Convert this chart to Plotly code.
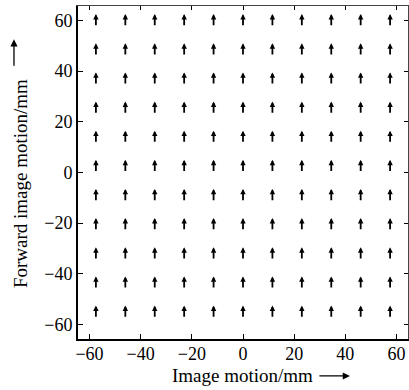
import plotly.graph_objects as go

# Grid of sample points (mm)
x_positions = [-57.5, -46.0, -34.5, -23.0, -11.5, 0.0, 11.5, 23.0, 34.5, 46.0, 57.5]
y_positions = [-57.5, -46.0, -34.5, -23.0, -11.5, 0.0, 11.5, 23.0, 34.5, 46.0, 57.5]
# Image motion components at each row (lateral u, forward v), uniform field
u_rows = [0.0, 0.0, 0.0, 0.0, 0.0, 0.0, 0.0, 0.0, 0.0, 0.0, 0.0]
v_rows = [5.0, 5.0, 5.0, 5.0, 5.0, 5.0, 5.0, 5.0, 5.0, 5.0, 5.0]

tick_vals = [-60, -40, -20, 0, 20, 40, 60]
tick_text = ["\u221260", "\u221240", "\u221220", "0", "20", "40", "60"]

x_title = "Image motion/mm"
y_title = "Forward image motion/mm"

FONT = "Liberation Serif"

fig = go.Figure()
fig.add_trace(go.Scatter(x=[0], y=[0], mode="markers", marker=dict(opacity=0),
                         hoverinfo="skip", showlegend=False))
fig.add_trace(go.Scatter(x=[0], y=[0], mode="markers", marker=dict(opacity=0),
                         xaxis="x2", yaxis="y2", hoverinfo="skip", showlegend=False))

annotations = []
for j, yv in enumerate(y_positions):
    for xv in x_positions:
        annotations.append(dict(
            x=xv + u_rows[j], y=yv + v_rows[j], ax=xv, ay=yv,
            xref="x", yref="y", axref="x", ayref="y",
            text="", showarrow=True, arrowhead=2, arrowsize=0.6,
            arrowwidth=1.8, arrowcolor="black", standoff=0, startstandoff=0,
        ))

annotations.append(dict(text=x_title, xref="paper", yref="paper",
                        x=0.497, y=-0.11, xanchor="center", yanchor="middle",
                        showarrow=False, font=dict(family=FONT, size=19, color="black")))
annotations.append(dict(text=y_title, xref="paper", yref="paper",
                        x=-0.176, y=0.468, xanchor="center", yanchor="middle",
                        textangle=-90, showarrow=False,
                        font=dict(family=FONT, size=19, color="black")))
annotations.append(dict(text="", xref="paper", yref="paper", x=0.824, y=-0.111,
                        axref="pixel", ayref="pixel", ax=-32, ay=0, showarrow=True,
                        arrowhead=2, arrowsize=1.1, arrowwidth=1.3, arrowcolor="black",
                        standoff=0, startstandoff=0))
annotations.append(dict(text="", xref="paper", yref="paper", x=-0.194, y=0.9,
                        axref="pixel", ayref="pixel", ax=0, ay=28, showarrow=True,
                        arrowhead=2, arrowsize=1.1, arrowwidth=1.3, arrowcolor="black",
                        standoff=0, startstandoff=0))

tickfont = dict(family=FONT, size=18, color="black")

fig.update_layout(
    template="none",
    width=409, height=390,
    margin=dict(l=78, r=1, t=6, b=51, pad=0),
    paper_bgcolor="white", plot_bgcolor="white",
    showlegend=False,
    font=dict(family=FONT, color="black"),
    annotations=annotations,
    xaxis=dict(range=[-64.5, 64.5], tickvals=tick_vals, ticktext=tick_text,
               ticks="inside", ticklen=5, tickwidth=1, tickcolor="black",
               showline=True, linewidth=2, linecolor="black", automargin=False,
               ticklabelstandoff=-3,
               showgrid=False, zeroline=False, tickfont=tickfont),
    yaxis=dict(range=[-65.7, 65.7], tickvals=tick_vals, ticktext=tick_text,
               ticks="inside", ticklen=5, tickwidth=1, tickcolor="black",
               showline=True, linewidth=2, linecolor="black", automargin=False,
               showgrid=False, zeroline=False, tickfont=tickfont),
    xaxis2=dict(range=[-64.5, 64.5], overlaying="x", side="top", anchor="y",
                tickvals=tick_vals, ticks="inside", ticklen=4, tickwidth=1,
                tickcolor="black", showticklabels=False, showline=True, automargin=False,
                linewidth=1, linecolor="#444", showgrid=False, zeroline=False),
    yaxis2=dict(range=[-65.7, 65.7], overlaying="y", side="right", anchor="x",
                tickvals=tick_vals, ticks="inside", ticklen=4, tickwidth=1,
                tickcolor="black", showticklabels=False, showline=True, automargin=False,
                linewidth=1, linecolor="#444", showgrid=False, zeroline=False),
)

fig.write_html("out.html", config={"displayModeBar": False},
               post_script="document.body.style.margin='0';document.body.style.padding='0';")
